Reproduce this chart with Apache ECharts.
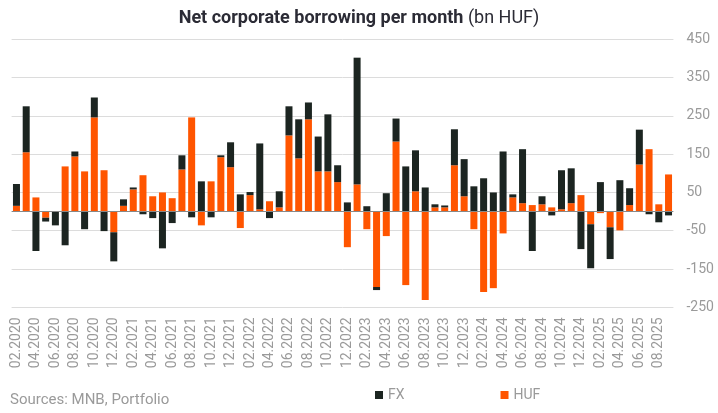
<!DOCTYPE html>
<html>
<head>
<meta charset="utf-8">
<title>Net corporate borrowing per month</title>
<script src="https://cdn.jsdelivr.net/npm/echarts@6.0.0/dist/echarts.min.js"></script>
<style>
  html, body { margin: 0; padding: 0; background: #fff; }
  #chart { width: 718px; height: 413px; }
</style>
</head>
<body>
<div id="chart"></div>
<script>
// months 02.2020 - 09.2025
const months = [
  '02.2020', '03.2020', '04.2020', '05.2020', '06.2020', '07.2020', '08.2020', '09.2020', '10.2020', '11.2020', '12.2020',
  '01.2021', '02.2021', '03.2021', '04.2021', '05.2021', '06.2021', '07.2021', '08.2021', '09.2021', '10.2021', '11.2021', '12.2021',
  '01.2022', '02.2022', '03.2022', '04.2022', '05.2022', '06.2022', '07.2022', '08.2022', '09.2022', '10.2022', '11.2022', '12.2022',
  '01.2023', '02.2023', '03.2023', '04.2023', '05.2023', '06.2023', '07.2023', '08.2023', '09.2023', '10.2023', '11.2023', '12.2023',
  '01.2024', '02.2024', '03.2024', '04.2024', '05.2024', '06.2024', '07.2024', '08.2024', '09.2024', '10.2024', '11.2024', '12.2024',
  '01.2025', '02.2025', '03.2025', '04.2025', '05.2025', '06.2025', '07.2025', '08.2025', '09.2025'
]

// forint borrowing (bn HUF)
const hufValues = [
  15, 155, 37, -16, 0, 118, 144, 105, 246, 108, -54,
  15, 58, 95, 40, 50, 35, 110, 246, -36, 79, 142, 116,
  -43, 43, 6, 27, 11, 199, 139, 241, 105, 105, 77, -93,
  71, -46, -197, -64, 183, -192, 53, -231, 11, 11, 121, 40,
  -46, -210, -200, -57, 37, 22, 17, 19, 11, 6, 22, 43,
  -33, -4, -41, -49, 17, 123, 163, 19, 97
]

// foreign currency borrowing (bn HUF)
const fxValues = [
  57, 120, -103, -10, -36, -88, 13, -46, 52, -51, -76,
  17, 5, -7, -17, -96, -30, 37, -15, 79, -15, 5, 65,
  45, 8, 172, -17, 42, 76, 102, 44, 91, 149, 44, 24,
  331, 14, -8, 48, 60, 118, 107, 63, 8, 5, 94, 97,
  66, 87, 50, 157, 8, 141, -103, 21, -10, 102, 91, -98,
  -115, 77, -83, 82, 44, 91, -7, -28, -10
]

// y axis labels
const yTicks = [-250, -150, -50, 50, 150, 250, 350, 450]

const FONT = 'Roboto'
const GREY = '#9a9a9a'

const chart = echarts.init(document.getElementById('chart'))

chart.setOption({
  backgroundColor: '#fff',
  animation: false,
  textStyle: { fontFamily: FONT },
  title: {
    text: '{b|Net corporate borrowing per month} {n|(bn HUF)}',
    left: 'center',
    top: 4,
    textStyle: {
      rich: {
        b: { fontFamily: FONT, fontSize: 18, fontWeight: 'bold', color: '#2b2b35' },
        n: { fontFamily: FONT, fontSize: 18, fontWeight: 'normal', color: '#2b2b35' }
      }
    }
  },
  legend: {
    data: ['FX', 'HUF'],
    left: 370,
    top: 383,
    icon: 'rect',
    itemWidth: 8,
    itemHeight: 8,
    itemGap: 96,
    textStyle: { color: GREY, fontSize: 14, fontFamily: FONT }
  },
  graphic: [
    {
      type: 'text',
      left: 10,
      top: 393,
      style: { text: 'Sources: MNB, Portfolio', fill: GREY, fontSize: 15, fontFamily: FONT }
    }
  ],
  grid: { left: 11.6, right: 44.6, top: 39.3, bottom: 105.7 },
  xAxis: {
    type: 'category',
    data: months,
    axisLine: { show: false, onZero: false },
    axisTick: { show: false },
    axisLabel: {
      interval: 1,
      rotate: 90,
      margin: 10,
      color: GREY,
      fontSize: 14,
      fontFamily: FONT
    }
  },
  yAxis: {
    type: 'value',
    position: 'right',
    min: -250,
    max: 450,
    axisLine: { show: false },
    axisTick: { show: false, customValues: yTicks },
    axisLabel: {
      customValues: yTicks,
      margin: 13,
      color: GREY,
      fontSize: 14,
      fontFamily: FONT
    },
    splitLine: { lineStyle: { color: '#dcdcdc', width: 1 } }
  },
  series: [
    {
      name: 'HUF',
      type: 'bar',
      stack: 'total',
      barCategoryGap: '28%',
      itemStyle: { color: '#ff5500' },
      data: hufValues,
      // zero line
      markLine: {
        silent: true,
        symbol: 'none',
        label: { show: false },
        lineStyle: { color: '#888', width: 1.2, type: 'solid' },
        data: [{ yAxis: 0 }]
      }
    },
    {
      name: 'FX',
      type: 'bar',
      stack: 'total',
      barCategoryGap: '28%',
      itemStyle: { color: '#1c2521' },
      data: fxValues
    }
  ]
})
</script>
</body>
</html>
